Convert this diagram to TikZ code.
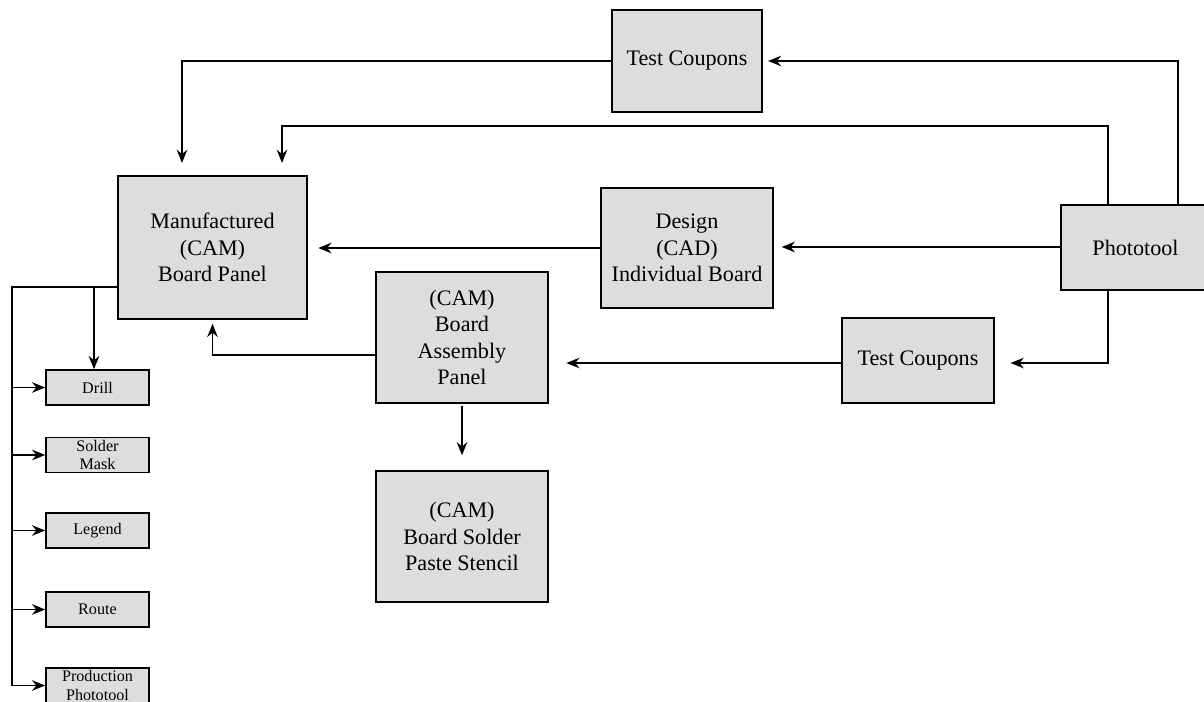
\documentclass[tikz,border=0pt]{standalone}
\usepackage{fontspec}
\setmainfont{Liberation Serif}
\usetikzlibrary{arrows.meta,positioning,calc}

\definecolor{boxgray}{RGB}{221,221,221}

\begin{document}
\begin{tikzpicture}[x=0.02cm,y=-0.02cm,
    stage/.style={rectangle,draw,line width=0.9pt,fill=boxgray,align=center,
      inner sep=0pt,font=\fontsize{12.6}{15}\selectfont},
    layer/.style={rectangle,draw,line width=0.9pt,fill=boxgray,align=center,
      inner sep=0pt,minimum width=2.06cm,minimum height=0.7cm,
      font=\fontsize{9.2}{10.6}\selectfont},
    wire/.style={line width=0.9pt},
    link/.style={wire,-{Stealth[length=7.5pt,width=6pt]}}]
  \useasboundingbox (0,0) rectangle (1204,702);

  % main boxes
  \node [stage,minimum width=3cm,minimum height=2.04cm] (tcA) at (687,61) {Test Coupons};
  \node [stage,minimum width=3.78cm,minimum height=2.86cm] (manu) at (212.5,247.5)
    {Manufactured\\(CAM)\\Board Panel};
  \node [stage,minimum width=3.44cm,minimum height=2.4cm] (design) at (687,248)
    {Design\\(CAD)\\Individual Board};
  \node [stage,minimum width=2.98cm,minimum height=1.7cm] (photo) at (1135.5,247.5) {Phototool};
  \node [stage,minimum width=3.04cm,minimum height=1.7cm] (tcB) at (918,360.5) {Test Coupons};
  \node [stage,minimum width=3.44cm,minimum height=2.62cm] (asm) at (462,337.5)
    {(CAM)\\Board\\Assembly\\Panel};
  \node [stage,minimum width=3.44cm,minimum height=2.62cm] (paste) at (462,536.5)
    {(CAM)\\Board Solder\\Paste Stencil};

  % panel layers
  \node [layer] (drill) at (97.5,387.5) {Drill};
  \node [layer] (mask) at (97.5,455) {Solder\\Mask};
  \node [layer] (legend) at (97.5,530.5) {Legend};
  \node [layer] (route) at (97.5,609.5) {Route};
  \node [layer] (prod) at (97.5,685.5) {Production\\Phototool};

  \coordinate (topbus) at (282,126);
  \coordinate (bus) at (12,287);
  \coordinate (drilltap) at (94,287);

  % flows out of the phototool
  \draw [link,shorten >=3pt] ([xshift=0.85cm]photo.north) |- (tcA.east);
  \draw [link,shorten >=7pt] (tcA.west) -| ([xshift=-0.61cm]manu.north);
  \draw [link,shorten >=7pt] ([xshift=-0.55cm]photo.north) |- (topbus) -- (topbus |- manu.north);
  \draw [link,shorten >=4.5pt] ([yshift=0.01cm]photo.west) -- ([yshift=0.01cm]photo.west -| design.east);
  \draw [link,shorten >=6pt] (design.west) -- (design.west -| manu.east);
  \draw [link,shorten >=9pt] ([xshift=-0.55cm]photo.south) |- ([yshift=-0.05cm]tcB.east);
  \draw [link,shorten >=10pt] ([yshift=-0.05cm]tcB.west) -- ([yshift=-0.05cm]tcB.west -| asm.east);
  \draw [link,shorten >=2.3pt] ([yshift=-0.35cm]asm.west) -| (manu.south);
  \draw [link,shorten <=1pt,shorten >=8.5pt] (asm.south) -- (paste.north);

  % panel to layers
  \draw [wire] (manu.west |- bus) -- (bus) -- (bus |- prod.west);
  \draw [link] (drilltap) -- (drilltap |- drill.north);
  \foreach \b in {drill,mask,legend,route,prod}
    \draw [link] (bus |- \b.west) -- (\b.west);
\end{tikzpicture}
\end{document}
